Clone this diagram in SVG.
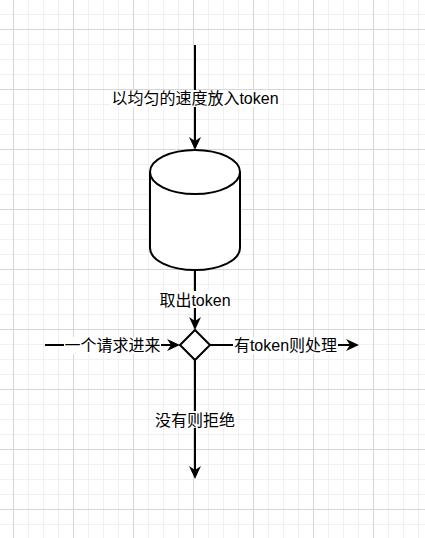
<svg xmlns="http://www.w3.org/2000/svg" width="425" height="538" viewBox="0 0 425 538">
<defs>
<style>
.minor{stroke:#f0f0f0;stroke-width:1;fill:none}
.major{stroke:#d6d6d6;stroke-width:1;fill:none}
.shape{fill:#fff;stroke:#000;stroke-width:2}
.edge{fill:none;stroke:#000;stroke-width:2}
.lbl{font-family:"Liberation Sans","Noto Sans CJK SC",sans-serif;font-size:16px;fill:#000;text-anchor:middle}
.bg{fill:#fff}
</style>
<marker id="arrow" markerUnits="userSpaceOnUse" markerWidth="14" markerHeight="14" viewBox="0 0 14 14" refX="4" refY="7" orient="auto">
<path d="M13,7 L0,1 L4,7 L0,13 Z" fill="#000"/>
</marker>
</defs>
<rect width="425" height="538" fill="#fff"/>
<g id="grid">
<path class="minor" d="M28.5 0V538M43.5 0V538M58.5 0V538M88.5 0V538M103.5 0V538M118.5 0V538M148.5 0V538M163.5 0V538M178.5 0V538M208.5 0V538M223.5 0V538M238.5 0V538M268.5 0V538M283.5 0V538M298.5 0V538M328.5 0V538M343.5 0V538M358.5 0V538M388.5 0V538M403.5 0V538M418.5 0V538M0 14.5H425M0 44.5H425M0 59.5H425M0 74.5H425M0 104.5H425M0 119.5H425M0 134.5H425M0 164.5H425M0 179.5H425M0 194.5H425M0 224.5H425M0 239.5H425M0 254.5H425M0 284.5H425M0 299.5H425M0 314.5H425M0 344.5H425M0 359.5H425M0 374.5H425M0 404.5H425M0 419.5H425M0 434.5H425M0 464.5H425M0 479.5H425M0 494.5H425M0 524.5H425"/>
<path class="major" d="M13.5 0V538M73.5 0V538M133.5 0V538M193.5 0V538M253.5 0V538M313.5 0V538M373.5 0V538M0 29.5H425M0 89.5H425M0 149.5H425M0 209.5H425M0 269.5H425M0 329.5H425M0 389.5H425M0 449.5H425M0 509.5H425"/>
</g>
<g id="connectors">
<g id="edge-in">
<path class="edge" d="M195,45 V141" marker-end="url(#arrow)"/>
<rect class="bg" x="110" y="90" width="170" height="17"/>
<text class="lbl" x="195" y="104">以均匀的速度放入token</text>
</g>
<g id="edge-take">
<path class="edge" d="M195,270 V321" marker-end="url(#arrow)"/>
<rect class="bg" x="159" y="291" width="72" height="17"/>
<text class="lbl" x="195" y="306">取出token</text>
</g>
<g id="edge-request">
<path class="edge" d="M45,345 H171" marker-end="url(#arrow)"/>
<rect class="bg" x="64" y="337" width="97" height="17"/>
<text class="lbl" x="112.5" y="351">一个请求进来</text>
</g>
<g id="edge-process">
<path class="edge" d="M210,345 H350" marker-end="url(#arrow)"/>
<rect class="bg" x="233" y="337" width="105" height="17"/>
<text class="lbl" x="285.5" y="351">有token则处理</text>
</g>
<g id="edge-reject">
<path class="edge" d="M195,360 V470" marker-end="url(#arrow)"/>
<rect class="bg" x="154" y="411" width="82" height="17"/>
<text class="lbl" x="195" y="426">没有则拒绝</text>
</g>
</g>
<g id="bucket">
<path class="shape" d="M150,172 A45,22 0 0 1 240,172 V248 A45,22 0 0 1 150,248 Z"/>
<path class="edge" d="M150,172 A45,22 0 0 0 240,172"/>
</g>
<g id="decision">
<path class="shape" d="M195,330 L210,345 L195,360 L180,345 Z"/>
</g>
</svg>
